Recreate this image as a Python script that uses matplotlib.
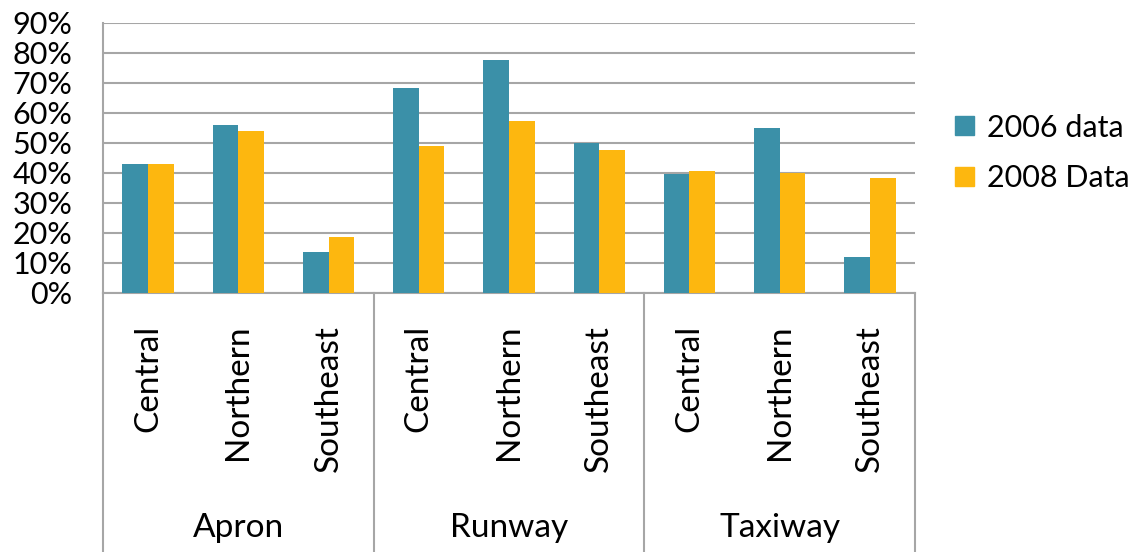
import matplotlib.pyplot as plt
import numpy as np
from matplotlib.patches import Patch

plt.rcParams['font.family'] = ['Lato', 'DejaVu Sans']

groups = ["Apron", "Runway", "Taxiway"]
regions = ["Central", "Northern", "Southeast"]
data_2006 = [43, 56, 13.5, 68.3, 77.7, 50, 39.7, 55, 12.1]
data_2008 = [43, 54, 18.5, 49, 57.4, 47.5, 40.5, 40, 38.4]

teal = "#3B90A8"
yellow = "#FDB70F"
grey = "#A6A6A6"

fig = plt.figure(figsize=(11.36, 5.52), dpi=100)
ax = fig.add_axes([103 / 1136, (552 - 293) / 552, 812 / 1136, 270.3 / 552])

x = np.arange(len(data_2006))
w = 0.285
ax.bar(x - w / 2, np.array(data_2006) / 100, w, color=teal, zorder=3)
ax.bar(x + w / 2, np.array(data_2008) / 100, w, color=yellow, zorder=3)

ax.set_xlim(-0.5, len(x) - 0.5)
ax.set_ylim(0, 0.9)
ax.set_yticks(np.arange(0, 0.91, 0.1))
ax.set_yticklabels([f"{int(round(v * 100))}%" for v in np.arange(0, 0.91, 0.1)])
ax.yaxis.grid(True, color=grey, linewidth=1.5, zorder=0)
ax.tick_params(axis='y', length=0, pad=22, labelsize=22)
ax.set_xticks([])
for s in ["top", "right"]:
    ax.spines[s].set_visible(False)
ax.spines["left"].set_color(grey)
ax.spines["bottom"].set_color(grey)
ax.spines["left"].set_linewidth(1.5)
ax.spines["bottom"].set_linewidth(1.5)

# lower category area
tr = ax.get_xaxis_transform()
for xs in [-0.5, 2.5, 5.5, 8.5]:
    ax.plot([xs, xs], [0, -0.96], color=grey, lw=1.5, transform=tr, clip_on=False)

for i in range(len(x)):
    ax.text(x[i], -0.118, regions[i % 3], rotation=90, ha='center', va='top',
            fontsize=24, transform=tr)
for g, name in enumerate(groups):
    ax.text(g * 3 + 1, -0.869, name, ha='center', va='center', fontsize=24, transform=tr)

handles = [Patch(color=teal, label="2006 data"), Patch(color=yellow, label="2008 Data")]
fig.legend(handles=handles, loc='center left', bbox_to_anchor=(943 / 1136, 1 - 153 / 552),
           frameon=False, fontsize=22, handlelength=0.63, handleheight=0.6,
           handletextpad=0.4, labelspacing=0.75, borderaxespad=0)

plt.savefig("out.png", dpi=100)
